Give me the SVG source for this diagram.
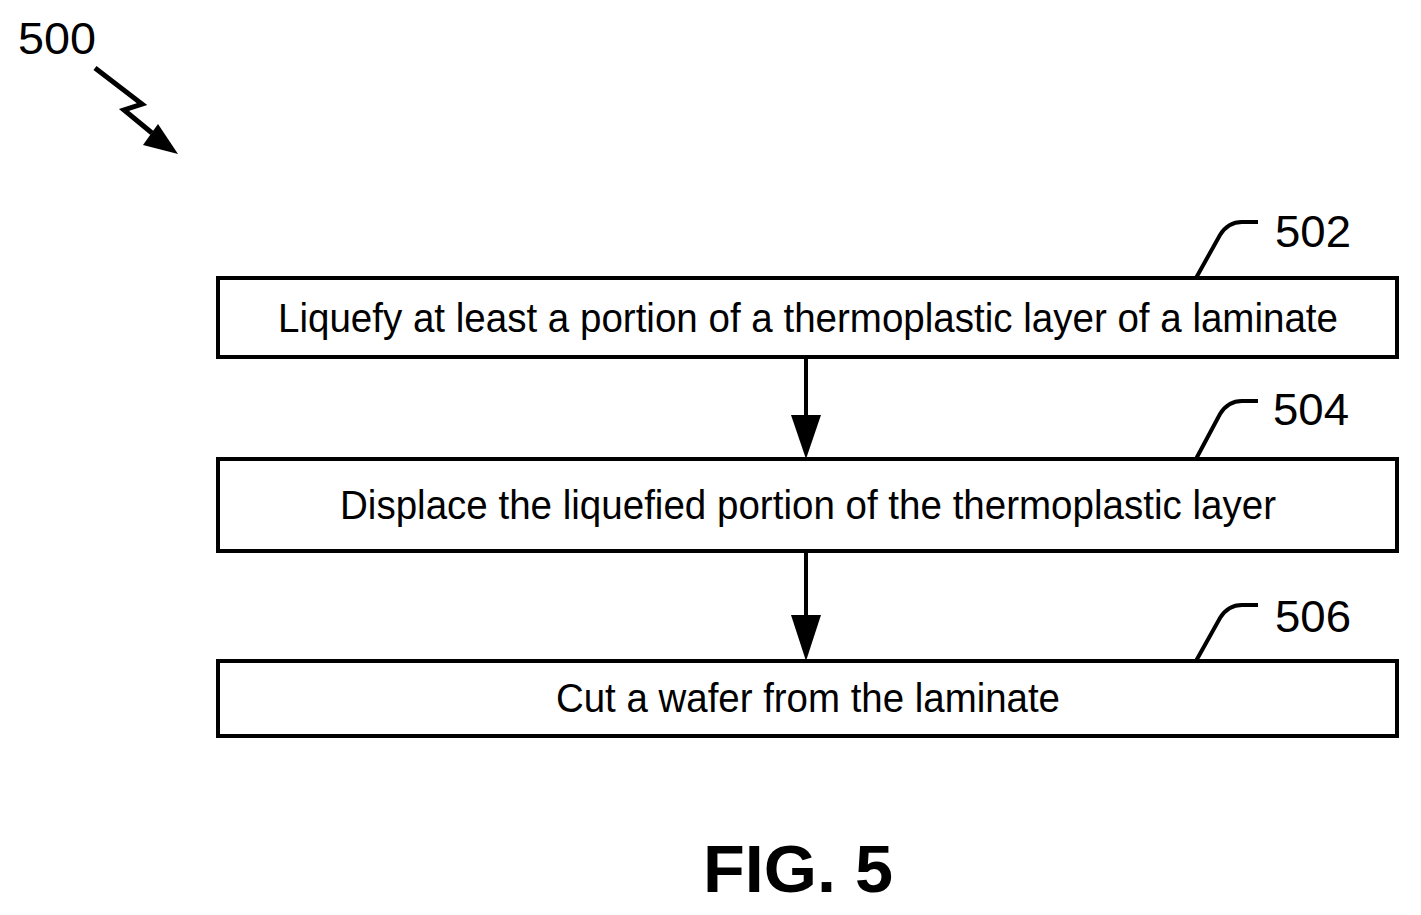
<svg xmlns="http://www.w3.org/2000/svg" width="1421" height="915" viewBox="0 0 1421 915">
<style>
.box{fill:#fff;stroke:#000;stroke-width:4}
.t{font-family:"Liberation Sans",Arial,sans-serif;font-size:41px;fill:#000}
.ref{font-family:"Liberation Sans",Arial,sans-serif;font-size:44px;fill:#000}
.ld{fill:none;stroke:#000;stroke-width:4}
</style>
<rect width="1421" height="915" fill="#fff"/>
<g id="ref500">
<text class="ref" x="18" y="54" textLength="78" lengthAdjust="spacingAndGlyphs">500</text>
<path d="M95,68 L142,104 L124,110 L152,133" fill="none" stroke="#000" stroke-width="5"/>
<path d="M178,154 L143,145 L158,124 z"/>
</g>
<g id="connectors">
<line x1="806" y1="357" x2="806" y2="420" stroke="#000" stroke-width="4"/>
<path d="M791,415 L821,415 L806,459 z"/>
<line x1="806" y1="551" x2="806" y2="620" stroke="#000" stroke-width="4"/>
<path d="M791,615 L821,615 L806,661 z"/>
</g>
<g id="n502">
<rect class="box" x="218" y="278" width="1179" height="79"/>
<text class="t" x="808" y="332" text-anchor="middle" textLength="1060" lengthAdjust="spacingAndGlyphs">Liquefy at least a portion of a thermoplastic layer of a laminate</text>
<path class="ld" d="M1196,278 L1220,235 Q1228,222 1242,222 L1258,222"/>
<text class="ref" x="1275" y="247" textLength="76" lengthAdjust="spacingAndGlyphs">502</text>
</g>
<g id="n504">
<rect class="box" x="218" y="459" width="1179" height="92"/>
<text class="t" x="808" y="519" text-anchor="middle" textLength="936" lengthAdjust="spacingAndGlyphs">Displace the liquefied portion of the thermoplastic layer</text>
<path class="ld" d="M1196,459 L1220,414 Q1228,401 1242,401 L1258,401"/>
<text class="ref" x="1273" y="425" textLength="76" lengthAdjust="spacingAndGlyphs">504</text>
</g>
<g id="n506">
<rect class="box" x="218" y="661" width="1179" height="75"/>
<text class="t" x="808" y="712" text-anchor="middle" textLength="504" lengthAdjust="spacingAndGlyphs">Cut a wafer from the laminate</text>
<path class="ld" d="M1196,661 L1220,618 Q1228,605 1242,605 L1258,605"/>
<text class="ref" x="1275" y="632" textLength="76" lengthAdjust="spacingAndGlyphs">506</text>
</g>
<text x="798" y="892" text-anchor="middle" font-family="Liberation Sans,Arial,sans-serif" font-weight="bold" font-size="66" textLength="190" lengthAdjust="spacingAndGlyphs">FIG. 5</text>
</svg>
